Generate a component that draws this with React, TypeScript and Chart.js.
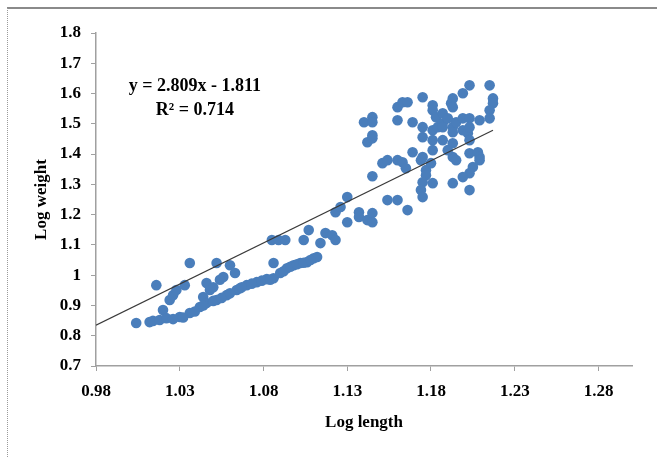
import React, { useEffect, useRef } from "react";
import { Chart, registerables } from "chart.js";

Chart.register(...registerables);

// Log length (x) of each fish
const logLength = [
  1.004, 1.012, 1.014, 1.016, 1.018, 1.020, 1.022, 1.024, 1.026, 1.028, 1.030, 1.033, 1.036, 1.036,
  1.042, 1.044, 1.046, 1.046, 1.048, 1.052, 1.052, 1.056, 1.058, 1.060, 1.063, 1.064, 1.066, 1.070,
  1.076, 1.082, 1.086, 1.086, 1.090, 1.094, 1.098, 1.102, 1.106, 1.110, 1.112,
  1.085, 1.089, 1.093, 1.104, 1.107, 1.114, 1.117, 1.121, 1.123, 1.123, 1.126, 1.130, 1.130,
  1.137, 1.137, 1.142, 1.145, 1.145, 1.145, 1.151, 1.154, 1.154, 1.160, 1.160, 1.163, 1.165,
  1.166, 1.169, 1.174, 1.175, 1.177, 1.177, 1.175, 1.181, 1.174, 1.175,
  1.140, 1.145, 1.145, 1.142, 1.145, 1.145, 1.160, 1.163, 1.166, 1.160, 1.169, 1.175, 1.175, 1.175,
  1.181, 1.181, 1.183, 1.181, 1.181, 1.181, 1.184, 1.187, 1.187, 1.190, 1.187, 1.192, 1.193, 1.193,
  1.193, 1.193, 1.193, 1.195, 1.199, 1.199, 1.199, 1.202, 1.203, 1.203, 1.203, 1.203, 1.209,
  1.215, 1.217, 1.217, 1.215, 1.193, 1.195, 1.203, 1.208, 1.209, 1.209, 1.205, 1.203, 1.199,
  1.193, 1.203, 1.180, 1.190, 1.215, 1.187,
  1.026, 1.032, 1.039, 1.044, 1.050, 1.055, 1.060, 1.067, 1.073, 1.079, 1.084, 1.092, 1.096,
  1.100, 1.104, 1.108, 1.050, 1.054,
];

// Log weight (y) of each fish
const logWeight = [
  0.842, 0.845, 0.849, 0.967, 0.852, 0.885, 0.858, 0.918, 0.934, 0.951, 0.862, 0.967, 0.875, 1.040,
  0.895, 0.928, 0.908, 0.974, 0.951, 0.918, 1.040, 0.994, 0.934, 1.033, 1.007, 0.951, 0.957, 0.967,
  0.977, 0.987, 0.990, 1.040, 1.007, 1.023, 1.033, 1.040, 1.043, 1.056, 1.060,
  1.116, 1.116, 1.116, 1.116, 1.149, 1.106, 1.139, 1.132, 1.116, 1.208, 1.225, 1.258, 1.175,
  1.208, 1.192, 1.182, 1.205, 1.175, 1.327, 1.370, 1.380, 1.248, 1.248, 1.380, 1.373, 1.353,
  1.215, 1.406, 1.380, 1.390, 1.347, 1.330, 1.307, 1.304, 1.281, 1.258,
  1.505, 1.522, 1.505, 1.439, 1.452, 1.462, 1.555, 1.571, 1.571, 1.512, 1.505, 1.588, 1.489, 1.456,
  1.561, 1.545, 1.522, 1.479, 1.446, 1.413, 1.489, 1.502, 1.535, 1.518, 1.446, 1.568, 1.584, 1.555,
  1.489, 1.472, 1.436, 1.505, 1.601, 1.518, 1.479, 1.469, 1.627, 1.518, 1.489, 1.446, 1.512,
  1.627, 1.584, 1.568, 1.545, 1.390, 1.380, 1.403, 1.406, 1.390, 1.380, 1.357, 1.337, 1.324,
  1.304, 1.281, 1.370, 1.413, 1.518, 1.489,
  0.855, 0.860, 0.880, 0.900, 0.915, 0.925, 0.940, 0.960, 0.972, 0.982, 0.985, 1.013, 1.028,
  1.036, 1.041, 1.050, 0.960, 0.985,
];

// Linear trend line end points (as drawn)
const trendX = [0.98, 1.217];
const trendY = [0.835, 1.479];

const xTicks = [0.98, 1.03, 1.08, 1.13, 1.18, 1.23, 1.28];
const yTicks = [0.7, 0.8, 0.9, 1.0, 1.1, 1.2, 1.3, 1.4, 1.5, 1.6, 1.7, 1.8];
const xRange = [0.98, 1.3];
const yRange = [0.7, 1.8];

const xTitle = "Log length";
const yTitle = "Log weight";
const equationText = "y = 2.809x - 1.811";
const r2Text = "R² = 0.714";
// label anchor positions in data units
const equationAt = [1.039, 1.624];
const r2At = [1.039, 1.545];

const FONT = "'Liberation Serif', 'Times New Roman', serif";

export default function App() {
  const ref = useRef<HTMLCanvasElement | null>(null);

  useEffect(() => {
    if (!ref.current) return;

    const overlay = {
      id: "overlay",
      beforeDraw(chart: any) {
        const { ctx, width, height } = chart;
        ctx.save();
        ctx.fillStyle = "#ffffff";
        ctx.fillRect(0, 0, width, height);
        // outer frame (top and left)
        ctx.strokeStyle = "#8a8a8a";
        ctx.lineWidth = 2;
        ctx.beginPath();
        ctx.moveTo(7, 8);
        ctx.lineTo(width, 8);
        ctx.stroke();
        ctx.strokeStyle = "#9a9a9a";
        ctx.lineWidth = 1;
        ctx.setLineDash([1, 1]);
        ctx.beginPath();
        ctx.moveTo(7.5, 8);
        ctx.lineTo(7.5, height);
        ctx.stroke();
        ctx.restore();
      },
      afterDatasetsDraw(chart: any) {
        const { ctx } = chart;
        const xs = chart.scales.x;
        const ys = chart.scales.y;
        ctx.save();
        ctx.fillStyle = "#000";
        ctx.font = `bold 18px ${FONT}`;
        ctx.textAlign = "center";
        ctx.textBaseline = "middle";
        ctx.fillText(equationText, xs.getPixelForValue(equationAt[0]), ys.getPixelForValue(equationAt[1]));
        ctx.fillText(r2Text, xs.getPixelForValue(r2At[0]), ys.getPixelForValue(r2At[1]));
        ctx.restore();
      },
    };

    const points = logLength.map((x, i) => ({ x, y: logWeight[i] }));
    const trend = trendX.map((x, i) => ({ x, y: trendY[i] }));

    const tickFont = { family: FONT, size: 17, weight: "bold" as const };

    const chart = new Chart(ref.current, {
      type: "scatter",
      data: {
        datasets: [
          {
            type: "line",
            label: "Trend",
            data: trend,
            borderColor: "#3a3a3a",
            borderWidth: 1.2,
            pointRadius: 0,
            fill: false,
            order: 0,
          } as any,
          {
            label: "Log weight",
            data: points,
            backgroundColor: "#4A7EBB",
            borderWidth: 0,
            pointRadius: 5.3,
            order: 1,
          },
        ],
      },
      options: {
        animation: false,
        responsive: false,
        layout: { padding: { left: 0, top: 33, right: 25, bottom: 0 } },
        plugins: {
          legend: { display: false },
          tooltip: { enabled: false },
        },
        scales: {
          x: {
            type: "linear",
            min: xRange[0],
            max: xRange[1],
            afterBuildTicks: (axis: any) => {
              axis.ticks = xTicks.map((v) => ({ value: v }));
            },
            afterFit: (axis: any) => {
              axis.height = 91;
            },
            ticks: {
              callback: (v: any) => Number(v).toFixed(2),
              color: "#000",
              font: tickFont,
              padding: 10,
              maxRotation: 0,
            },
            grid: { drawOnChartArea: false, drawTicks: true, tickLength: 5, color: "#a0a0a0" },
            border: { color: "#a0a0a0", width: 1.5 },
            title: {
              display: true,
              text: xTitle,
              color: "#000",
              font: tickFont,
              padding: { top: 0, bottom: 24 },
            },
          },
          y: {
            type: "linear",
            min: yRange[0],
            max: yRange[1],
            afterBuildTicks: (axis: any) => {
              axis.ticks = yTicks.map((v) => ({ value: v }));
            },
            afterFit: (axis: any) => {
              axis.width = 96;
            },
            ticks: {
              callback: (v: any) => String(Number(Number(v).toFixed(1))),
              color: "#000",
              font: tickFont,
              padding: 10,
            },
            grid: { drawOnChartArea: false, drawTicks: true, tickLength: 5, color: "#a0a0a0" },
            border: { color: "#a0a0a0", width: 1.5 },
            title: {
              display: true,
              text: yTitle,
              color: "#000",
              font: tickFont,
              padding: { top: 31, bottom: 0 },
            },
          },
        },
      },
      plugins: [overlay],
    });

    return () => chart.destroy();
  }, []);

  return (
    <div style={{ position: "fixed", left: 0, top: 0, width: 657, height: 457 }}>
      <canvas ref={ref} width={657} height={457} style={{ display: "block", width: 657, height: 457 }} />
    </div>
  );
}
